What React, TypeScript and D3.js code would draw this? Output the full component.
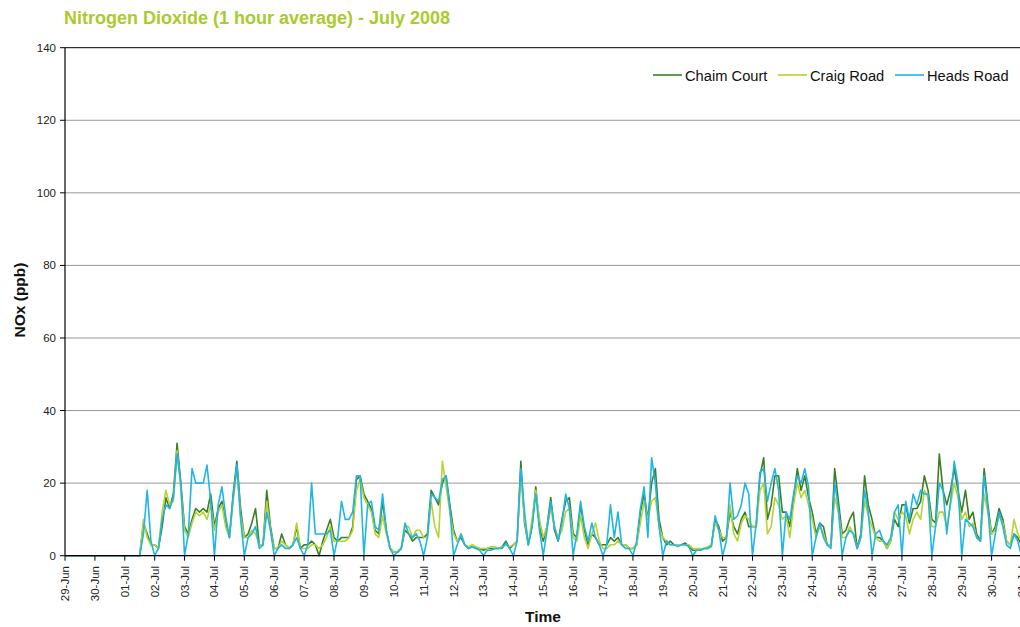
import React from 'react';
import * as d3 from 'd3';

// Day tick labels (29-Jun .. 31-Jul)
const dayLabels = [
  '29-Jun', '30-Jun', '01-Jul', '02-Jul', '03-Jul', '04-Jul', '05-Jul', '06-Jul', '07-Jul', '08-Jul',
  '09-Jul', '10-Jul', '11-Jul', '12-Jul', '13-Jul', '14-Jul', '15-Jul', '16-Jul', '17-Jul', '18-Jul',
  '19-Jul', '20-Jul', '21-Jul', '22-Jul', '23-Jul', '24-Jul', '25-Jul', '26-Jul', '27-Jul', '28-Jul',
  '29-Jul', '30-Jul', '31-Jul',
];
const yTicks = [0, 20, 40, 60, 80, 100, 120, 140];

// 3-hourly readings (00,03,06,09,12,15,18,21 h) from 29-Jun 00:00, last point 31-Jul 00:00
const chaimCourt = [
  0, 0, 0, 0, 0, 0, 0, 0,
  0, 0, 0, 0, 0, 0, 0, 0,
  0, 0, 0, 0, 0, 9, 6, 3,
  3, 2, 8, 16, 13, 17, 31, 20,
  8, 6, 10, 13, 12, 13, 12, 17,
  8, 13, 15, 9, 5, 17, 26, 13,
  5, 6, 9, 13, 3, 3, 18, 8,
  2, 2, 6, 3, 2, 3, 8, 2,
  3, 3, 4, 3, 0, 4, 7, 10,
  5, 4, 5, 5, 5, 8, 21, 22,
  17, 15, 13, 7, 6, 15, 7, 2,
  1, 1, 2, 7, 6, 4, 5, 5,
  5, 6, 18, 16, 14, 20, 22, 14,
  7, 4, 5, 3, 2, 2.5, 2, 2,
  1.5, 2, 2, 2, 2, 2.5, 4, 2,
  3, 4, 26, 9, 3, 8, 19, 8,
  4, 8, 16, 7, 4, 10, 15, 16,
  6, 5, 14, 7, 3, 6, 5, 3,
  3, 3, 5, 4, 5, 3, 3, 2,
  2, 3, 12, 17, 10, 20, 24, 10,
  5, 3, 4, 3, 3, 3, 3.5, 2.5,
  1.5, 1.5, 1.5, 2, 2, 3, 10, 8,
  4, 5, 12, 8, 6, 10, 12, 8,
  8, 8, 22, 27, 10, 14, 22, 22,
  12, 12, 8, 16, 24, 18, 22, 16,
  12, 6, 9, 8, 3, 3, 24, 15,
  6, 7, 10, 12, 2, 6, 22, 14,
  10, 5, 5, 4, 2, 4, 10, 8,
  14, 14, 9, 13, 13, 15, 22, 18,
  10, 9, 28, 18, 14, 18, 24, 18,
  12, 18, 10, 12, 6, 4, 24, 14,
  6, 8, 13, 10, 4, 3, 6, 5,
  3,
];

const craigRoad = [
  0, 0, 0, 0, 0, 0, 0, 0,
  0, 0, 0, 0, 0, 0, 0, 0,
  0, 0, 0, 0, 0, 10, 5, 3,
  3, 2, 12, 18, 14, 15, 29, 18,
  7, 5, 9, 12, 11, 12, 10, 14,
  7, 12, 14, 8, 5, 15, 24, 11,
  5, 5, 7, 6, 3, 3, 15, 7,
  2, 2, 4, 3, 2, 3, 9, 2,
  2, 2, 3, 3, 2, 3, 5, 8,
  4, 4, 4, 4, 5, 7, 18, 21,
  16, 14, 12, 6, 5, 11, 6, 2,
  1, 1, 2, 8, 8, 5, 7, 7,
  5, 5, 15, 8, 5, 26, 19, 12,
  6, 4, 6, 3, 2.5, 3, 2.5, 2,
  2, 2, 2.5, 2.5, 2, 2.5, 3, 2.5,
  3, 4, 22, 10, 3, 10, 18, 10,
  5, 8, 13, 8, 5, 7, 12, 13,
  5, 4, 11, 5, 2, 6, 9, 4,
  2, 2, 3, 3, 4, 3, 3, 2,
  2, 3, 9, 15, 10, 15, 16, 8,
  5, 4, 3, 3, 3, 3, 3, 3,
  2, 2, 2, 2, 2.5, 3, 9, 7,
  5, 5, 14, 6, 4, 9, 11, 10,
  8, 8, 18, 20, 6, 8, 16, 14,
  10, 11, 5, 14, 20, 16, 18, 14,
  10, 5, 8, 6, 3, 3, 16, 12,
  5, 5, 8, 6, 2, 5, 15, 11,
  8, 5, 4, 4, 2, 4, 12, 10,
  12, 11, 6, 10, 12, 10, 18, 16,
  8, 8, 12, 12, 8, 14, 20, 16,
  10, 12, 8, 9, 5, 4, 17, 12,
  6, 7, 11, 9, 4, 3, 10, 6,
  4,
];

const headsRoad = [
  0, 0, 0, 0, 0, 0, 0, 0,
  0, 0, 0, 0, 0, 0, 0, 0,
  0, 0, 0, 0, 0, 6, 18, 4,
  0, 2, 10, 14, 13, 16, 28, 20,
  0, 6, 24, 20, 20, 20, 25, 15,
  0, 14, 19, 11, 5, 16, 25, 10,
  0, 5, 6, 8, 2, 3, 12, 7,
  0, 2, 3, 2, 2, 3, 5, 2,
  0, 3, 20, 6, 6, 6, 6, 7,
  0, 5, 15, 10, 10, 12, 22, 22,
  0, 14, 15, 8, 7, 17, 7, 2,
  0, 1, 2, 9, 6, 5, 6, 4,
  0, 5, 17, 16, 15, 21, 22, 13,
  0, 3, 6, 3, 2, 2.5, 2, 1.5,
  0, 1.5, 1.5, 2, 2, 2, 3.5, 2,
  0, 4, 24, 12, 3, 8, 17, 7,
  0, 7, 15, 8, 4, 9, 17, 13,
  0, 6, 15, 8, 4, 9, 5, 3,
  0, 3, 14, 5, 12, 3, 2, 2,
  0, 4, 13, 19, 5, 27, 20, 8,
  0, 4, 3, 3, 2.5, 3, 3, 2.5,
  0, 1.5, 1.5, 2, 2, 2.5, 11, 7,
  0, 4, 20, 10, 11, 14, 20, 17,
  0, 9, 23, 24, 15, 20, 24, 18,
  0, 12, 10, 17, 22, 20, 24, 19,
  0, 5, 9, 5, 3, 2, 20, 13,
  0, 5, 7, 6, 2, 5, 18, 12,
  0, 6, 7, 4, 3, 5, 12, 14,
  0, 15, 10, 17, 14, 18, 17, 17,
  0, 8, 20, 18, 6, 15, 26, 20,
  0, 10, 9, 8, 5, 4, 22, 13,
  0, 6, 12, 8, 3, 2, 6, 4,
  0,
];

const seriesNames = ['Chaim Court', 'Craig Road', 'Heads Road'];
const seriesColors = ['#3b7f24', '#b4d335', '#1fb6e6'];

export default function App() {
  const W = 1020;
  const H = 627;
  const left = 65;
  const x = d3.scaleLinear().domain([0, 32]).range([left, 1021.5]);
  const y = d3.scaleLinear().domain([0, 140]).range([555.7, 47.7]);
  const stepsPerDay = 8;
  const line = d3
    .line<number>()
    .x((_, i) => x(i / stepsPerDay))
    .y((d) => y(d));
  const data = [chaimCourt, craigRoad, headsRoad];
  const font = '"Liberation Sans", Arial, sans-serif';
  const legendX = [653, 778, 895];

  return (
    <svg
      width={W}
      height={H}
      style={{ position: 'absolute', left: 0, top: 0, display: 'block', background: '#fff' }}
      fontFamily={font}
    >
      <defs>
        <clipPath id="plotClip">
          <rect x={left} y={40} width={W - left} height={520} />
        </clipPath>
      </defs>
      <text x={64} y={24} fontSize={18} fontWeight="bold" fill="#a9cb2b">
        Nitrogen Dioxide (1 hour average) - July 2008
      </text>

      {/* gridlines */}
      {yTicks.map((t) => (
        <line
          key={'g' + t}
          x1={left}
          x2={W}
          y1={y(t)}
          y2={y(t)}
          stroke={t === 140 ? '#000' : '#999'}
          strokeWidth={1}
        />
      ))}
      {/* y ticks and labels */}
      {yTicks.map((t) => (
        <g key={'y' + t}>
          <line x1={left - 5} x2={left} y1={y(t)} y2={y(t)} stroke="#000" />
          <text x={56} y={y(t)} dy="0.35em" fontSize={11.5} textAnchor="end" fill="#222">
            {t}
          </text>
        </g>
      ))}

      {/* series */}
      <g clipPath="url(#plotClip)">
        {data.map((s, k) => (
          <path
            key={k}
            d={line(s) || ''}
            fill="none"
            stroke={seriesColors[k]}
            strokeWidth={1.6}
            strokeLinejoin="round"
          />
        ))}
      </g>

      {/* axes */}
      <line x1={left} x2={left} y1={y(140)} y2={y(0)} stroke="#000" strokeWidth={1.2} />
      <line x1={left} x2={W} y1={y(0)} y2={y(0)} stroke="#000" strokeWidth={1.2} />

      {/* x ticks and labels */}
      {dayLabels.map((lab, i) => (
        <g key={lab}>
          <line x1={x(i)} x2={x(i)} y1={y(0)} y2={y(0) + 5} stroke="#000" />
          <text
            transform={`translate(${x(i) + 4},${566}) rotate(-90)`}
            fontSize={11.5}
            textAnchor="end"
            fill="#222"
          >
            {lab}
          </text>
        </g>
      ))}

      {/* axis titles */}
      <text x={543} y={622} fontSize={15.5} fontWeight="bold" textAnchor="middle" fill="#111">
        Time
      </text>
      <text
        transform={`translate(25,300) rotate(-90)`}
        fontSize={15.5}
        fontWeight="bold"
        textAnchor="middle"
        fill="#111"
      >
        NOx (ppb)
      </text>

      {/* legend */}
      {seriesNames.map((n, k) => (
        <g key={n}>
          <line x1={legendX[k]} x2={legendX[k] + 29} y1={75} y2={75} stroke={seriesColors[k]} strokeWidth={1.6} />
          <text x={legendX[k] + 32} y={80.5} fontSize={14.7} fill="#111">
            {n}
          </text>
        </g>
      ))}
    </svg>
  );
}
